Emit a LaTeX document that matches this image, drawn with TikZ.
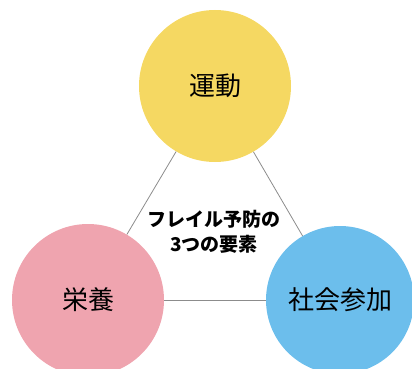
\documentclass[tikz,border=0pt]{standalone}
\usepackage{fontspec}
\newfontfamily\jp{Noto Sans CJK JP}
\definecolor{kiiro}{HTML}{F5D862}
\definecolor{pinku}{HTML}{EFA4AF}
\definecolor{aoiro}{HTML}{6CBEEC}
\tikzset{
	youso/.style={circle, inner sep=0pt, minimum size=152pt, font=\jp\fontsize{26}{26}\selectfont},
	sen/.style={draw=black!45, line width=0.8pt}
}
\begin{document}
\begin{tikzpicture}[x=1pt,y=-1pt]
		\useasboundingbox (0,0) rectangle (412,369);
		\clip (0,0) rectangle (412,369);
		\node[youso, fill=kiiro](undou) at (215,86) {運動};
		\node[youso, fill=pinku](eiyou) at (88,300) {栄養};
		\node[youso, fill=aoiro, minimum size=148pt](shakai) at (340,300) {社会参加};
		\draw[sen] (undou) -- (eiyou);
		\draw[sen] (undou) -- (shakai);
		\draw[sen] (eiyou) -- (shakai);
		\node[align=center, font=\jp\bfseries\fontsize{19}{25}\selectfont](midashi) at (214,232) {フレイル予防の\\3つの要素};
	\end{tikzpicture}
\end{document}
